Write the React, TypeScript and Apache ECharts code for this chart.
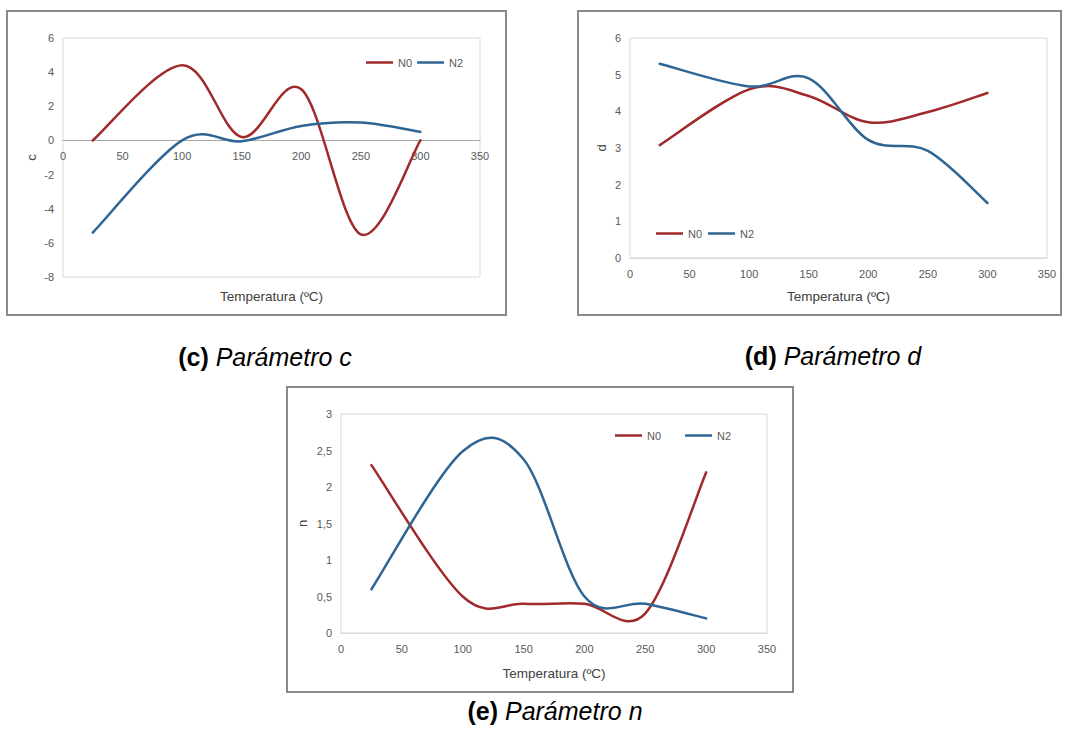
import React, { useEffect, useRef } from 'react';
import * as echarts from 'echarts';

// Temperatures (ºC) at which the parameters were fitted
const temperatures = [25, 100, 150, 200, 250, 300];

// Parameter c
const cN0 = [0, 4.4, 0.2, 3.0, -5.5, 0];
const cN2 = [-5.4, 0, -0.05, 0.85, 1.05, 0.5];

// Parameter d
const dN0 = [3.08, 4.6, 4.42, 3.7, 3.98, 4.5];
const dN2 = [5.3, 4.68, 4.9, 3.22, 2.92, 1.5];

// Parameter n
const nN0 = [2.3, 0.5, 0.4, 0.4, 0.27, 2.2];
const nN2 = [0.6, 2.49, 2.38, 0.5, 0.4, 0.2];

const seriesNames = ['N0', 'N2'];
const xAxisTitle = 'Temperatura (ºC)';
const yAxisTitles = ['c', 'd', 'n'];
const captionTags = ['(c)', '(d)', '(e)'];
const captionTexts = ['Parámetro c', 'Parámetro d', 'Parámetro n'];

const COLORS = ['#a0292b', '#2d6595'];
const FONT = 'Liberation Sans';
const LABEL_COLOR = '#595959';
const PLOT_BORDER = '#d9d9d9';

const pairs = (vals: number[]) => temperatures.map((t, i) => [t, vals[i]]);

// Cardinal (Catmull-Rom style) spline through pixel points, as spreadsheet "smoothed lines" draw it
function splinePath(pts: number[][]): string {
  let d = `M${pts[0][0]},${pts[0][1]}`;
  for (let i = 0; i < pts.length - 1; i++) {
    const p0 = pts[i - 1] || pts[i];
    const p1 = pts[i];
    const p2 = pts[i + 1];
    const p3 = pts[i + 2] || p2;
    const c1x = p1[0] + (p2[0] - p0[0]) / 6;
    const c1y = p1[1] + (p2[1] - p0[1]) / 6;
    const c2x = p2[0] - (p3[0] - p1[0]) / 6;
    const c2y = p2[1] - (p3[1] - p1[1]) / 6;
    d += ` C${c1x},${c1y} ${c2x},${c2y} ${p2[0]},${p2[1]}`;
  }
  return d;
}

export default function App() {
  const ref = useRef<HTMLDivElement>(null);

  useEffect(() => {
    if (!ref.current) return;
    const chart = echarts.init(ref.current, null, { renderer: 'svg' });

    const grids = [
      { left: 63, top: 38, width: 417, height: 239 },
      { left: 630, top: 38, width: 417, height: 220 },
      { left: 341, top: 414, width: 426, height: 219 },
    ];

    // distance from the bottom of the first plot up to its zero line
    const zeroLift = -(grids[0].height * 8) / 14;

    const xAxisBase = (gridIndex: number, nameGap: number) => ({
      type: 'value',
      gridIndex,
      min: 0,
      max: 350,
      interval: 50,
      name: xAxisTitle,
      nameLocation: 'middle',
      nameGap,
      nameTextStyle: { fontFamily: FONT, fontSize: 13.5, color: '#404040' },
      offset: gridIndex === 0 ? zeroLift : 0,
      axisTick: { show: false },
      splitLine: { show: false },
      axisLine: {
        show: true,
        onZero: false,
        lineStyle: { color: gridIndex === 0 ? '#a6a6a6' : PLOT_BORDER, width: 1 },
      },
      axisLabel: { fontFamily: FONT, fontSize: 11, color: LABEL_COLOR, margin: 10 },
    });

    const yAxisBase = (gridIndex: number, min: number, max: number, interval: number, nameGap: number) => ({
      type: 'value',
      gridIndex,
      min,
      max,
      interval,
      name: yAxisTitles[gridIndex],
      nameLocation: 'middle',
      nameGap,
      nameTextStyle: { fontFamily: FONT, fontSize: 13, color: '#404040' },
      axisTick: { show: false },
      splitLine: { show: false },
      axisLine: { show: false },
      axisLabel: {
        fontFamily: FONT,
        fontSize: 11,
        color: LABEL_COLOR,
        margin: 9,
        formatter: (v: number) => String(v).replace('.', ','),
      },
    });

    const smoothSeries = (name: string, vals: number[], idx: number, color: string) => ({
      type: 'custom',
      name,
      coordinateSystem: 'cartesian2d',
      xAxisIndex: idx,
      yAxisIndex: idx,
      data: pairs(vals),
      encode: { x: 0, y: 1 },
      itemStyle: { color },
      clip: false,
      renderItem: (params: any, api: any) => {
        if (params.dataIndex !== 0) return null;
        const pts = pairs(vals).map((p) => api.coord(p));
        return {
          type: 'path',
          shape: { pathData: splinePath(pts) },
          style: { fill: 'none', stroke: color, lineWidth: 2.5, lineJoin: 'round', lineCap: 'round' },
          silent: true,
        };
      },
    });

    const legendBase = (left: number, top: number, itemGap: number) => ({
      left,
      top,
      padding: 0,
      orient: 'horizontal',
      data: seriesNames,
      icon: 'rect',
      itemWidth: 27,
      itemHeight: 2.5,
      itemGap,
      textStyle: { fontFamily: FONT, fontSize: 11, color: LABEL_COLOR },
    });

    const frame = (x: number, y: number, w: number, h: number) => ({
      type: 'rect',
      shape: { x, y, width: w, height: h },
      style: { fill: 'none', stroke: '#8a8a8a', lineWidth: 2 },
      silent: true,
      z: -1,
    });

    const caption = (i: number, cx: number, cy: number) => ({
      type: 'text',
      x: cx,
      y: cy,
      style: {
        text: `{b|${captionTags[i]}} {i|${captionTexts[i]}}`,
        align: 'center',
        verticalAlign: 'middle',
        fill: '#000',
        fontFamily: 'Liberation Sans',
        fontSize: 25,
        rich: {
          b: { fontWeight: 'bold', fontSize: 25, fontFamily: 'Liberation Sans', fill: '#000' },
          i: { fontStyle: 'italic', fontSize: 25, fontFamily: 'Liberation Sans', fill: '#000' },
        },
      },
    });

    chart.setOption({
      animation: false,
      backgroundColor: '#ffffff',
      grid: grids.map((g) => ({ ...g, show: true, borderColor: PLOT_BORDER, borderWidth: 1, backgroundColor: 'transparent' })),
      xAxis: [xAxisBase(0, 149), xAxisBase(1, 31), xAxisBase(2, 33)],
      yAxis: [
        yAxisBase(0, -8, 6, 2, 25),
        yAxisBase(1, 0, 6, 1, 22),
        yAxisBase(2, 0, 3, 0.5, 32),
      ],
      legend: [legendBase(366, 57, 5), legendBase(656, 228, 6), legendBase(615, 430, 24)],
      series: [
        smoothSeries(seriesNames[0], cN0, 0, COLORS[0]),
        smoothSeries(seriesNames[1], cN2, 0, COLORS[1]),
        smoothSeries(seriesNames[0], dN0, 1, COLORS[0]),
        smoothSeries(seriesNames[1], dN2, 1, COLORS[1]),
        smoothSeries(seriesNames[0], nN0, 2, COLORS[0]),
        smoothSeries(seriesNames[1], nN2, 2, COLORS[1]),
      ],
      graphic: [
        frame(7, 11, 499, 304),
        frame(578, 11, 483, 304),
        frame(287, 387, 506, 305),
        caption(0, 265, 357),
        caption(1, 833, 356),
        caption(2, 555, 711),
      ],
    });

    return () => chart.dispose();
  }, []);

  return (
    <div
      ref={ref}
      style={{ position: 'fixed', left: 0, top: 0, width: 1074, height: 742 }}
    />
  );
}
